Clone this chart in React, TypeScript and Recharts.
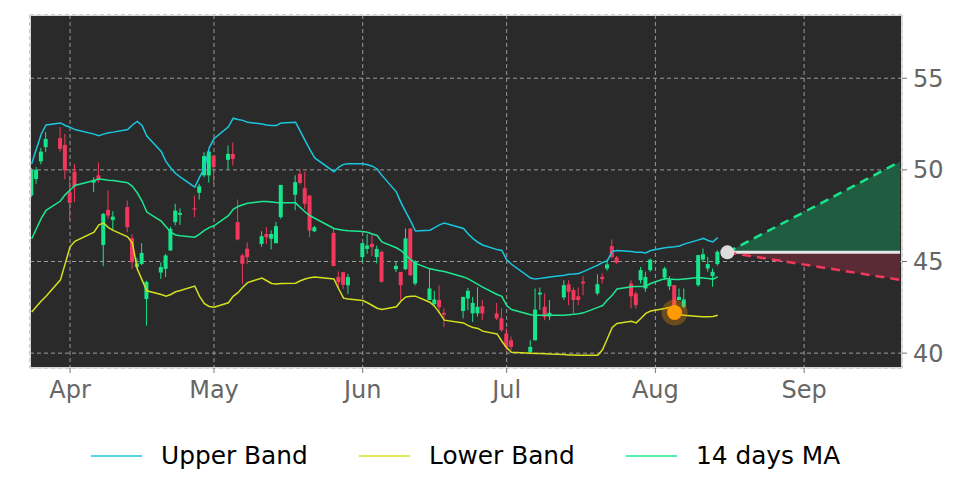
import {
    ComposedChart,
    Bar,
    Line,
    Area,
    XAxis,
    YAxis,
    CartesianGrid,
    ReferenceDot,
} from "recharts";

// trading days (2026), MM-DD
const dates = [
    "03-24", "03-25", "03-26", "03-27", "03-30", "03-31", "04-01", "04-02",
    "04-06", "04-07", "04-08", "04-09", "04-10", "04-13", "04-14", "04-15", "04-16", "04-17",
    "04-20", "04-21", "04-22", "04-23", "04-24", "04-27", "04-28", "04-29", "04-30", "05-01",
    "05-04", "05-05", "05-06", "05-07", "05-08", "05-11", "05-12", "05-13", "05-14", "05-15",
    "05-18", "05-19", "05-20", "05-21", "05-22", "05-26", "05-27", "05-28", "05-29",
    "06-01", "06-02", "06-03", "06-04", "06-05", "06-08", "06-09", "06-10", "06-11", "06-12",
    "06-15", "06-16", "06-17", "06-18", "06-22", "06-23", "06-24", "06-25", "06-26",
    "06-29", "06-30", "07-01", "07-02", "07-06", "07-07", "07-08", "07-09", "07-10",
    "07-13", "07-14", "07-15", "07-16", "07-17", "07-20", "07-21", "07-22", "07-23", "07-24",
    "07-27", "07-28", "07-29", "07-30", "07-31", "08-03", "08-04", "08-05", "08-06", "08-07",
    "08-10", "08-11", "08-12", "08-13", "08-14",
];

const open = [
    48.6, 49.5, 50.46, 51.24, 51.73, 51.36, 48.78, 49.9,
    49.3, 49.7, 45.9, 47.82, 47.27, 47.97, 46.27, 44.7, 44.87, 42.95,
    44.4, 44.6, 45.6, 47.15, 47.55, 47.9, 48.75, 49.7, 49.7, 50.78,
    50.55, 50.87, 47.15, 45.33, 45.7, 45.96, 46.5, 46.24, 46.0, 47.42,
    48.64, 49.78, 49.0, 48.6, 46.65, 46.56, 44.15, 44.42, 43.7,
    45.24, 45.69, 45.96, 45.24, 45.53, 44.58, 44.43, 44.58, 46.8, 43.8,
    42.9, 42.67, 42.9, 42.2, 42.3, 42.98, 42.17, 42.17, 42.56,
    42.17, 41.9, 41.07, 40.7, 40.07, 40.7, 43.2, 42.53, 42.0,
    43.04, 43.75, 43.44, 43.1, 43.9, 43.26, 44.16, 44.62, 45.84, 45.22,
    43.8, 43.25, 43.98, 43.53, 44.53, 44.13, 43.65, 43.71, 42.9, 42.53,
    43.71, 45.11, 44.62, 44.2, 44.86,
];

const high = [
    50.1, 50.15, 51.2, 52.06, 52.33, 51.96, 49.6, 50.33,
    49.6, 50.4, 47.65, 48.88, 47.75, 48.33, 46.5, 45.2, 46.0, 43.95,
    44.95, 45.42, 46.9, 48.15, 47.9, 48.6, 49.24, 50.97, 51.0, 50.8,
    51.33, 51.5, 48.38, 45.42, 46.05, 46.65, 46.87, 46.7, 47.15, 49.18,
    49.7, 50.05, 49.9, 48.6, 46.95, 46.82, 44.46, 44.42, 44.33,
    46.0, 46.5, 46.5, 45.87, 45.6, 45.02, 44.43, 46.8, 46.8, 45.07,
    44.6, 43.4, 43.7, 42.45, 43.07, 43.56, 43.07, 43.6, 42.9,
    42.74, 42.44, 41.35, 40.9, 40.7, 43.53, 43.58, 43.25, 42.9,
    43.98, 43.98, 43.58, 43.58, 44.2, 44.3, 44.35, 45.1, 46.2, 45.3,
    43.98, 43.35, 44.7, 44.44, 45.16, 44.71, 44.2, 43.71, 43.53, 43.53,
    45.35, 45.71, 45.25, 44.62, 45.62,
];

const low = [
    48.5, 49.24, 50.3, 50.96, 51.0, 49.5, 47.24, 48.24,
    48.8, 49.3, 44.75, 47.33, 46.7, 46.6, 44.6, 44.6, 44.8, 41.5,
    44.05, 44.15, 45.6, 46.97, 47.0, 47.42, 48.38, 49.6, 49.3, 49.25,
    50.02, 50.24, 46.15, 43.78, 44.87, 45.8, 45.96, 45.66, 46.0, 47.33,
    47.8, 49.2, 47.87, 46.33, 46.6, 44.75, 43.6, 43.5, 43.24,
    45.0, 45.42, 45.3, 44.9, 43.85, 44.43, 42.9, 44.53, 44.2, 43.7,
    42.9, 42.6, 42.17, 41.43, 41.9, 42.34, 41.7, 42.0, 41.8,
    41.8, 41.17, 40.16, 40.16, 39.98, 40.7, 42.35, 41.8, 41.8,
    42.9, 42.62, 42.17, 42.62, 43.16, 43.16, 43.8, 44.5, 45.17, 44.88,
    42.44, 42.44, 43.8, 43.35, 44.44, 43.98, 43.44, 42.3, 42.9, 42.44,
    43.62, 44.98, 44.44, 43.62, 44.77,
];

const close = [
    50.0, 50.0, 51.0, 51.69, 51.15, 49.97, 48.2, 49.1,
    49.4, 49.5, 47.6, 47.51, 47.45, 46.87, 44.96, 44.9, 45.47, 43.89,
    44.7, 45.33, 46.78, 47.78, 47.65, 47.84, 49.11, 50.75, 51.0, 50.15,
    50.87, 50.6, 46.2, 44.87, 45.24, 46.38, 46.33, 46.5, 46.93, 49.18,
    49.33, 49.29, 48.15, 46.69, 46.87, 44.75, 43.87, 43.73, 44.15,
    46.0, 45.87, 45.78, 45.69, 43.89, 44.76, 43.71, 46.26, 44.26, 44.98,
    43.53, 42.93, 42.5, 42.1, 43.07, 43.4, 42.74, 42.53, 42.17,
    41.9, 41.25, 40.34, 40.34, 40.34, 42.38, 43.3, 41.98, 42.2,
    43.71, 43.35, 42.9, 42.9, 43.8, 43.76, 44.04, 44.84, 45.25, 44.93,
    43.1, 42.62, 44.53, 44.16, 45.1, 44.62, 44.02, 42.35, 43.07, 42.93,
    45.35, 45.4, 44.86, 44.44, 45.53,
];

const upperBand = [
    50.33, 51.15, 51.96, 52.45, 52.56, 52.42, 52.33, 52.2,
    51.95, 51.87, 51.95, 52.02, 52.06, 52.2, 52.45, 52.64, 52.42, 51.85,
    51.0, 50.45, 50.1, 49.8, 49.6, 49.06, 49.6, 50.1, 51.2, 51.7,
    52.35, 52.82, 52.75, 52.7, 52.6, 52.5, 52.45, 52.42, 52.42, 52.56,
    52.6, 52.1, 51.6, 51.1, 50.65, 49.9, 50.15, 50.3, 50.33,
    50.33, 50.28, 50.2, 50.05, 49.7, 48.8, 48.2, 47.7, 47.2, 46.66,
    46.71, 46.85, 47.0, 47.1, 46.8, 46.5, 46.25, 46.05, 45.9,
    45.65, 45.6, 45.1, 44.85, 44.1, 44.04, 44.08, 44.12, 44.15,
    44.25, 44.3, 44.32, 44.35, 44.45, 44.8, 44.95, 45.05, 45.55, 45.6,
    45.55, 45.5, 45.5, 45.47, 45.6, 45.75, 45.78, 45.8, 45.85, 45.95,
    46.18, 46.26, 46.15, 46.07, 46.31,
];

const lowerBand = [
    42.24, 42.55, 42.85, 43.1, 44.0, 44.9, 45.8, 46.1,
    46.6, 47.0, 47.1, 46.85, 46.7, 46.35, 46.0, 44.6, 44.0, 43.4,
    43.2, 43.11, 43.2, 43.35, 43.42, 43.66, 43.1, 42.7, 42.55, 42.51,
    42.75, 43.1, 43.3, 43.6, 43.85, 44.1, 43.95, 43.8, 43.78, 43.8,
    43.82, 43.95, 44.05, 44.12, 44.15, 44.05, 43.5, 43.0, 42.96,
    42.87, 42.75, 42.6, 42.45, 42.38, 42.53, 42.85, 43.07, 43.1, 43.11,
    42.78, 42.55, 42.2, 41.8, 41.65, 41.5, 41.4, 41.35, 41.2,
    41.05, 40.65, 40.3, 40.05, 40.0, 39.98, 39.98, 39.97, 39.95,
    39.92, 39.9, 39.9, 39.89, 39.89, 39.89, 40.2, 40.8, 41.4, 41.62,
    41.74, 41.65, 41.9, 42.17, 42.3, 42.44, 42.5, 42.3, 42.1, 42.07,
    42.0, 41.98, 41.98, 42.0, 42.07,
];

const ma14 = [
    46.24, 46.8, 47.35, 47.79, 48.3, 48.65, 48.9, 49.15,
    49.42, 49.5, 49.48, 49.44, 49.42, 49.3, 49.1, 48.75, 48.3, 47.7,
    47.2, 46.9, 46.6, 46.45, 46.4, 46.33, 46.5, 46.7, 46.85, 46.95,
    47.5, 47.85, 48.0, 48.1, 48.18, 48.28, 48.28, 48.25, 48.22, 48.2,
    48.2, 47.95, 47.7, 47.5, 47.36, 46.8, 46.75, 46.7, 46.68,
    46.64, 46.6, 46.5, 46.42, 46.07, 45.75, 45.6, 45.35, 45.1, 44.9,
    44.6, 44.55, 44.5, 44.45, 44.16, 44.05, 43.9, 43.75, 43.6,
    43.2, 43.1, 42.6, 42.38, 42.1, 42.07, 42.07, 42.07, 42.07,
    42.07, 42.1, 42.12, 42.15, 42.2, 42.5, 42.6, 42.9, 43.16, 43.5,
    43.62, 43.63, 43.64, 43.65, 43.8, 44.07, 44.04, 44.02, 44.02, 44.05,
    44.13, 44.1, 44.07, 44.04, 44.16,
];

// projection cone
const projDates = ["08-16", "09-21"];
const projBase = [45.5, 45.5];
const projHigh = [45.5, 50.45];
const projLow = [45.5, 44.0];

// marked signal day
const signalDate = "08-05";
const signalValue = 42.22;

const tickDates = ["04-01", "05-01", "06-01", "07-01", "08-01", "09-01"];
const tickLabels = ["Apr", "May", "Jun", "Jul", "Aug", "Sep"];
const yTicks = [40, 45, 50, 55];

const UPPER = "#19c8e0";
const LOWER = "#d4e01e";
const MA = "#1de890";
const UP = "#16e58c";
const DOWN = "#f2385c";
const FONT = "DejaVu Sans";

// days since Apr 1
function dayOf(md: string) {
    const [m, d] = md.split("-").map(Number);
    return (Date.UTC(2026, m - 1, d) - Date.UTC(2026, 3, 1)) / 86400000;
}

const data: any[] = dates.map((d, i) => ({
    t: dayOf(d),
    open: open[i],
    high: high[i],
    low: low[i],
    close: close[i],
    upper: upperBand[i],
    lower: lowerBand[i],
    ma: ma14[i],
}));
projDates.forEach((d, i) => {
    data.push({ t: dayOf(d), base: projBase[i], pHigh: projHigh[i], pLow: projLow[i] });
});

const ticks = tickDates.map(dayOf);
const tickName: Record<number, string> = {};
ticks.forEach((t, i) => (tickName[t] = tickLabels[i]));

function Candle(props: any) {
    const { x, y, width, height, payload } = props;
    if (payload == null || payload.high == null) return null;
    const { open, close, high, low } = payload;
    const top = Math.min(y, y + height);
    const h = Math.abs(height);
    const k = h / (high - low || 1);
    const color = close >= open ? UP : DOWN;
    const cx = x + width / 2;
    const bTop = top + (high - Math.max(open, close)) * k;
    const bBot = top + (high - Math.min(open, close)) * k;
    return (
        <g>
            <line x1={cx} x2={cx} y1={top} y2={top + h} stroke={color} strokeWidth={1} />
            <rect x={x} y={bTop} width={width} height={Math.max(bBot - bTop, 1.2)} fill={color} />
        </g>
    );
}

const legendItems = [
    { label: "Upper Band", color: UPPER, left: 91 },
    { label: "Lower Band", color: LOWER, left: 359 },
    { label: "14 days MA", color: MA, left: 626 },
];

export default function App() {
    return (
        <div style={{ position: "absolute", left: 0, top: 0, width: 972, height: 486, background: "#fff" }}>
            <ComposedChart
                width={972}
                height={486}
                data={data}
                margin={{ top: 15, right: 0, bottom: 88, left: 30 }}
            >
                <CartesianGrid
                    stroke="#9a9a9a"
                    strokeDasharray="4 3"
                    fill="#2a2a2a"
                    fillOpacity={1}
                />
                <XAxis
                    dataKey="t"
                    type="number"
                    domain={[-8.35, 173.4]}
                    allowDataOverflow
                    ticks={ticks}
                    tickFormatter={(v) => tickName[v] ?? ""}
                    height={30}
                    tickSize={5}
                    tickMargin={8}
                    axisLine={{ stroke: "#d8d8d8" }}
                    tickLine={{ stroke: "#777" }}
                    tick={{ fill: "#666", fontSize: 24, fontFamily: FONT }}
                />
                <YAxis
                    orientation="right"
                    type="number"
                    domain={[39.19, 58.45]}
                    allowDataOverflow
                    ticks={yTicks}
                    width={70}
                    tickSize={5}
                    tickMargin={6}
                    axisLine={{ stroke: "#d8d8d8" }}
                    tickLine={{ stroke: "#777" }}
                    tick={{ fill: "#666", fontSize: 24, fontFamily: FONT, textAnchor: "start" }}
                />

                <Area
                    dataKey={(d: any) => (d.pHigh == null ? null : [d.base, d.pHigh])}
                    stroke="none"
                    fill="#1f5c40"
                    fillOpacity={1}
                    isAnimationActive={false}
                />
                <Area
                    dataKey={(d: any) => (d.pLow == null ? null : [d.pLow, d.base])}
                    stroke="none"
                    fill="#5a2a35"
                    fillOpacity={1}
                    isAnimationActive={false}
                />

                <Bar
                    dataKey={(d: any) => (d.high == null ? null : [d.low, d.high])}
                    barSize={4}
                    shape={<Candle />}
                    isAnimationActive={false}
                />

                <Line dataKey="upper" type="linear" stroke={UPPER} strokeWidth={1.5} dot={false} isAnimationActive={false} />
                <Line dataKey="lower" type="linear" stroke={LOWER} strokeWidth={1.5} dot={false} isAnimationActive={false} />
                <Line dataKey="ma" type="linear" stroke={MA} strokeWidth={1.5} dot={false} isAnimationActive={false} />

                <Line dataKey="base" type="linear" stroke="#e6e6e6" strokeWidth={3} dot={false} isAnimationActive={false} />
                <Line
                    dataKey="pHigh"
                    type="linear"
                    stroke={UP}
                    strokeWidth={2.5}
                    strokeDasharray="9 6"
                    dot={false}
                    isAnimationActive={false}
                />
                <Line
                    dataKey="pLow"
                    type="linear"
                    stroke={DOWN}
                    strokeWidth={2.5}
                    strokeDasharray="9 6"
                    dot={false}
                    isAnimationActive={false}
                />

                <ReferenceDot x={dayOf(projDates[0])} y={projBase[0]} r={7} fill="#dcdcdc" stroke="none" />
                <ReferenceDot x={dayOf(signalDate)} y={signalValue} r={13} fill="#ff9800" fillOpacity={0.3} stroke="none" />
                <ReferenceDot x={dayOf(signalDate)} y={signalValue} r={7.5} fill="#ff9a00" stroke="none" />
            </ComposedChart>

            {/* plot frame */}
            <div
                style={{
                    position: "absolute",
                    left: 30,
                    top: 15,
                    width: 872,
                    height: 353,
                    boxSizing: "border-box",
                    border: "1px solid #d8d8d8",
                    pointerEvents: "none",
                }}
            />

            {/* legend */}
            {legendItems.map((it) => (
                <div
                    key={it.label}
                    style={{
                        position: "absolute",
                        left: it.left,
                        top: 440,
                        display: "flex",
                        alignItems: "center",
                        fontFamily: FONT,
                        fontSize: 24.8,
                        color: "#000",
                        lineHeight: "32px",
                        whiteSpace: "nowrap",
                    }}
                >
                    <svg width={51} height={32} style={{ marginRight: 19 }}>
                        <line x1={0} x2={51} y1={16} y2={16} stroke={it.color} strokeWidth={1.5} />
                    </svg>
                    <span>{it.label}</span>
                </div>
            ))}
        </div>
    );
}
